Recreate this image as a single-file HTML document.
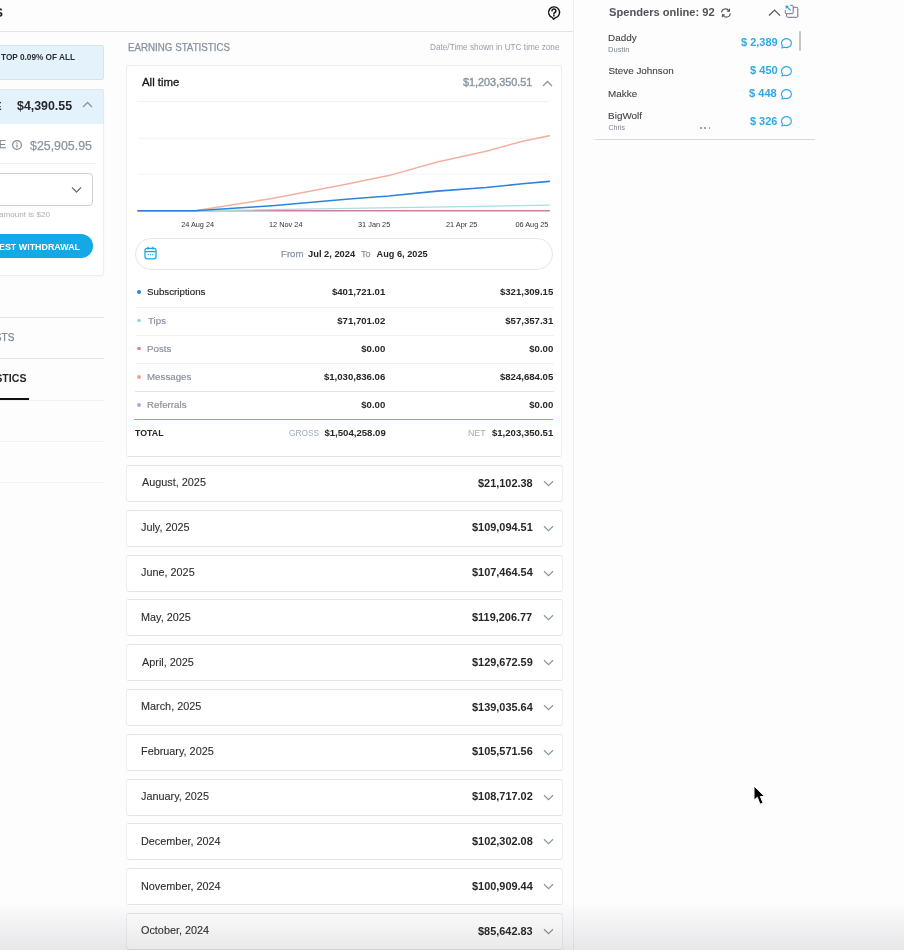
<!DOCTYPE html>
<html><head><meta charset="utf-8"><title>Statistics</title>
<style>
html,body{margin:0;padding:0;}
body{filter:blur(0.3px);width:904px;height:950px;overflow:hidden;position:relative;background:#fdfdfe;font-family:"Liberation Sans", Arial, sans-serif;}
.t{position:absolute;white-space:nowrap;line-height:1;}
.r{position:absolute;}
svg.r{overflow:visible;}
</style></head><body>
<div class="r" style="left:0.00px;top:31.00px;width:573.50px;height:1.00px;background:#e2e3e6;"></div>
<div class="t" style="left:-71.98px;top:6px;font-size:13.2px;color:#26272b;font-weight:bold;">STATISTICS</div>
<svg class="r" style="left:546px;top:5px" width="16" height="16" viewBox="0 0 16 16"><path d="M7.6 14.3 L6.5 12.6 A5.5 5.5 0 1 1 9.3 12.7 Z" fill="none" stroke="#111" stroke-width="1.4" stroke-linejoin="round"/><path d="M6.0 5.8 A1.95 1.95 0 1 1 8.6 7.7 Q7.9 8.1 7.9 8.9" fill="none" stroke="#111" stroke-width="1.5" stroke-linecap="round"/><circle cx="7.9" cy="10.7" r="0.85" fill="#111"/></svg>
<div class="r" style="left:573.00px;top:0.00px;width:1.00px;height:950.00px;background:#eeeef1;"></div>
<div class="r" style="left:-6.00px;top:45.00px;width:110.00px;height:35.30px;background:#e4f2fc;border:1px solid #d3e4f1;border-radius:2px;box-sizing:border-box;"></div>
<div class="t" style="left:-76.47px;top:53px;font-size:9.2px;color:#2a2d33;font-weight:bold;">YOU ARE IN THE</div>
<div class="t" style="left:1.02px;top:53px;font-size:9.2px;color:#2a2d33;font-weight:bold;transform:scaleX(0.897);transform-origin:0 0;">TOP 0.09% OF ALL</div>
<div class="r" style="left:-6.00px;top:89.30px;width:109.80px;height:186.70px;background:#fff;border:1px solid #eceef1;border-radius:3px;box-sizing:border-box;box-shadow:0 1px 2px rgba(0,0,0,0.03);"></div>
<div class="r" style="left:-6.00px;top:89.30px;width:109.80px;height:35.20px;background:#e4f2fc;border:1px solid #dbe9f5;border-bottom:0;box-sizing:border-box;border-radius:2px 2px 0 0;"></div>
<div class="t" style="left:-101.00px;top:102px;font-size:10.2px;color:#26272b;font-weight:bold;">CURRENT BALANCE</div>
<div class="t" style="left:17.18px;top:100px;font-size:12.3px;color:#26272b;font-weight:bold;transform:scaleX(1.007);transform-origin:0 0;">$4,390.55</div>
<svg class="r" style="left:82px;top:101px" width="11" height="7" viewBox="0 0 11 7"><path d="M1 6 L5.5 1.5 L10 6" fill="none" stroke="#8a96a3" stroke-width="1.3"/></svg>
<div class="t" style="left:-96.57px;top:139px;font-size:10.8px;color:#7f8893;-webkit-text-stroke:0.25px #7f8893;">PENDING BALANCE</div>
<svg class="r" style="left:11.9px;top:140.1px" width="10" height="10" viewBox="0 0 10 10"><circle cx="5" cy="5" r="4.4" fill="none" stroke="#7f8893" stroke-width="1.2"/><circle cx="5" cy="3" r="0.75" fill="#7f8893"/><path d="M5 4.5 V7.6" stroke="#7f8893" stroke-width="1.2"/></svg>
<div class="t" style="left:30.38px;top:140px;font-size:12.3px;color:#8a96a3;transform:scaleX(1.006);transform-origin:0 0;-webkit-text-stroke:0.25px #8a96a3;">$25,905.95</div>
<div class="r" style="left:-6.00px;top:163.00px;width:101.50px;height:1.00px;background:#eff0f2;"></div>
<div class="r" style="left:-6.00px;top:173.00px;width:98.70px;height:32.50px;border:1px solid #cdd1d6;border-radius:4px;box-sizing:border-box;background:#fff;"></div>
<svg class="r" style="left:71px;top:186px" width="11" height="8" viewBox="0 0 11 8"><path d="M1 1.5 L5.5 6 L10 1.5" fill="none" stroke="#6b7480" stroke-width="1.3"/></svg>
<div class="t" style="left:-74.96px;top:211px;font-size:8.0px;color:#a9b0b8;">Minimum withdrawal</div>
<div class="t" style="left:-0.82px;top:211px;font-size:8.0px;color:#a9b0b8;transform:scaleX(1.013);transform-origin:0 0;">amount is $20</div>
<div class="r" style="left:-20.00px;top:233.90px;width:112.90px;height:24.60px;background:#14a8e6;border-radius:13px;"></div>
<div class="t" style="left:-28.39px;top:242px;font-size:9.5px;color:#fff;font-weight:bold;">REQU</div>
<div class="t" style="left:-0.98px;top:242px;font-size:9.5px;color:#fff;font-weight:bold;transform:scaleX(0.936);transform-origin:0 0;">EST WITHDRAWAL</div>
<div class="r" style="left:0.00px;top:317.10px;width:104.00px;height:1.00px;background:#e3e5e8;"></div>
<div class="r" style="left:0.00px;top:358.10px;width:104.00px;height:1.00px;background:#e3e5e8;"></div>
<div class="r" style="left:0.00px;top:399.50px;width:104.00px;height:1.00px;background:#f0f1f3;"></div>
<div class="r" style="left:0.00px;top:440.70px;width:104.00px;height:1.00px;background:#f0f1f3;"></div>
<div class="r" style="left:0.00px;top:481.50px;width:104.00px;height:1.00px;background:#f0f1f3;"></div>
<div class="t" style="left:-19.60px;top:333px;font-size:10px;color:#7d8590;-webkit-text-stroke:0.25px #7d8590;">POSTS</div>
<div class="t" style="left:-33.79px;top:373px;font-size:10.6px;color:#26272b;font-weight:bold;">STATISTICS</div>
<div class="r" style="left:0.00px;top:397.80px;width:29.00px;height:2.00px;background:#111;"></div>
<div class="t" style="left:128.42px;top:43px;font-size:10.2px;color:#87919c;transform:scaleX(0.957);transform-origin:0 0;-webkit-text-stroke:0.25px #87919c;">EARNING STATISTICS</div>
<div class="t" style="left:429.74px;top:43px;font-size:8.6px;color:#979fa8;transform:scaleX(0.957);transform-origin:0 0;">Date/Time shown in UTC time zone</div>
<div class="r" style="left:126.40px;top:64.60px;width:435.80px;height:392.60px;background:#fff;border:1px solid #eceef1;border-top-color:#e9ebee;border-bottom-color:#dfe1e5;border-radius:3px;box-sizing:border-box;"></div>
<div class="t" style="left:141.50px;top:77px;font-size:11px;color:#161616;transform:scaleX(1.037);transform-origin:0 0;-webkit-text-stroke:0.3px #161616;">All time</div>
<div class="t" style="left:462.79px;top:77px;font-size:10.7px;color:#8a96a3;transform:scaleX(1.014);transform-origin:0 0;-webkit-text-stroke:0.4px #8a96a3;">$1,203,350.51</div>
<svg class="r" style="left:542px;top:79.5px" width="11" height="7" viewBox="0 0 11 7"><path d="M1 6 L5.5 1.5 L10 6" fill="none" stroke="#8a96a3" stroke-width="1.3"/></svg>
<div class="r" style="left:136.60px;top:100.80px;width:412.40px;height:1.00px;background:#f0f1f3;"></div>
<svg class="r" style="left:0;top:0" width="904" height="300" viewBox="0 0 904 300"><line x1="138" x2="549.5" y1="138.3" y2="138.3" stroke="#f2f3f5" stroke-width="1"/><line x1="138" x2="549.5" y1="174.1" y2="174.1" stroke="#f2f3f5" stroke-width="1"/><polyline points="138.0,210.8 549.3,210.8" fill="none" stroke="#d57a9c" stroke-width="1.6" stroke-linejoin="round" stroke-linecap="round"/><polyline points="138.0,210.8 195.0,210.8 549.3,205.2" fill="none" stroke="#a9dde4" stroke-width="1.3" stroke-linejoin="round" stroke-linecap="round"/><polyline points="138.0,210.8 195.0,210.8 272.0,198.6 346.0,184.3 388.7,175.6 437.3,162.0 486.0,151.3 522.5,141.3 549.3,135.8" fill="none" stroke="#f2b0a2" stroke-width="1.5" stroke-linejoin="round" stroke-linecap="round"/><polyline points="138.0,210.8 195.0,210.8 272.0,205.7 346.0,199.2 388.7,196.0 437.3,191.1 486.0,187.5 522.5,183.8 549.3,181.4" fill="none" stroke="#2d84d8" stroke-width="1.6" stroke-linejoin="round" stroke-linecap="round"/></svg>
<div class="t" style="left:181.13px;top:221px;font-size:7.33px;color:#333;">24 Aug 24</div>
<div class="t" style="left:269.05px;top:221px;font-size:7.33px;color:#333;">12 Nov 24</div>
<div class="t" style="left:358.04px;top:221px;font-size:7.33px;color:#333;">31 Jan 25</div>
<div class="t" style="left:446.03px;top:221px;font-size:7.33px;color:#333;">21 Apr 25</div>
<div class="t" style="left:515.44px;top:221px;font-size:7.33px;color:#333;">06 Aug 25</div>
<div class="r" style="left:135.00px;top:238.30px;width:418.20px;height:32.20px;border:1px solid #e4e6e9;border-radius:16px;box-sizing:border-box;background:#fff;"></div>
<svg class="r" style="left:143.8px;top:246px" width="13" height="14" viewBox="0 0 13 14"><rect x="1" y="2.3" width="11" height="10.5" rx="2" fill="none" stroke="#14a8e6" stroke-width="1.3"/><path d="M1 5.6 H12" stroke="#14a8e6" stroke-width="1.3"/><path d="M4 0.8 V3.4 M9 0.8 V3.4" stroke="#14a8e6" stroke-width="1.3"/><circle cx="4.3" cy="8.6" r="0.7" fill="#14a8e6"/><circle cx="6.5" cy="8.6" r="0.7" fill="#14a8e6"/><circle cx="8.7" cy="8.6" r="0.7" fill="#14a8e6"/></svg>
<div class="t" style="left:280.93px;top:250px;font-size:9.2px;color:#8a96a3;transform:scaleX(1.052);transform-origin:0 0;-webkit-text-stroke:0.25px #8a96a3;">From</div>
<div class="t" style="left:308.36px;top:250px;font-size:9.2px;color:#26272b;font-weight:bold;transform:scaleX(1.015);transform-origin:0 0;">Jul 2, 2024</div>
<div class="t" style="left:361.42px;top:250px;font-size:9.2px;color:#8a96a3;transform:scaleX(0.983);transform-origin:0 0;-webkit-text-stroke:0.25px #8a96a3;">To</div>
<div class="t" style="left:376.57px;top:250px;font-size:9.2px;color:#26272b;font-weight:bold;">Aug 6, 2025</div>
<div class="r" style="left:137.20px;top:290.30px;width:3.80px;height:3.80px;background:#2b7fe0;border-radius:50%;"></div>
<div class="t" style="left:147.26px;top:288px;font-size:9.2px;color:#26272b;transform:scaleX(1.060);transform-origin:0 0;-webkit-text-stroke:0.15px #26272b;">Subscriptions</div>
<div class="t" style="left:331.91px;top:287px;font-size:9.6px;color:#26272b;font-weight:bold;">$401,721.01</div>
<div class="t" style="left:499.91px;top:287px;font-size:9.6px;color:#26272b;font-weight:bold;">$321,309.15</div>
<div class="r" style="left:137.20px;top:318.50px;width:3.80px;height:3.80px;background:#93d8dd;border-radius:50%;"></div>
<div class="t" style="left:147.50px;top:317px;font-size:9.2px;color:#878e98;transform:scaleX(1.060);transform-origin:0 0;-webkit-text-stroke:0.15px #878e98;">Tips</div>
<div class="t" style="left:337.25px;top:316px;font-size:9.6px;color:#26272b;font-weight:bold;">$71,701.02</div>
<div class="t" style="left:505.25px;top:316px;font-size:9.6px;color:#26272b;font-weight:bold;">$57,357.31</div>
<div class="r" style="left:137.20px;top:346.70px;width:3.80px;height:3.80px;background:#e77fa8;border-radius:50%;"></div>
<div class="t" style="left:146.92px;top:345px;font-size:9.2px;color:#878e98;transform:scaleX(1.060);transform-origin:0 0;-webkit-text-stroke:0.15px #878e98;">Posts</div>
<div class="t" style="left:361.28px;top:344px;font-size:9.6px;color:#26272b;font-weight:bold;">$0.00</div>
<div class="t" style="left:529.28px;top:344px;font-size:9.6px;color:#26272b;font-weight:bold;">$0.00</div>
<div class="r" style="left:137.20px;top:374.90px;width:3.80px;height:3.80px;background:#f1a695;border-radius:50%;"></div>
<div class="t" style="left:146.92px;top:373px;font-size:9.2px;color:#878e98;transform:scaleX(1.060);transform-origin:0 0;-webkit-text-stroke:0.15px #878e98;">Messages</div>
<div class="t" style="left:323.91px;top:372px;font-size:9.6px;color:#26272b;font-weight:bold;">$1,030,836.06</div>
<div class="t" style="left:499.91px;top:372px;font-size:9.6px;color:#26272b;font-weight:bold;">$824,684.05</div>
<div class="r" style="left:137.20px;top:403.10px;width:3.80px;height:3.80px;background:#b3a5e6;border-radius:50%;"></div>
<div class="t" style="left:146.92px;top:401px;font-size:9.2px;color:#878e98;transform:scaleX(1.060);transform-origin:0 0;-webkit-text-stroke:0.15px #878e98;">Referrals</div>
<div class="t" style="left:361.28px;top:400px;font-size:9.6px;color:#26272b;font-weight:bold;">$0.00</div>
<div class="t" style="left:529.28px;top:400px;font-size:9.6px;color:#26272b;font-weight:bold;">$0.00</div>
<div class="r" style="left:136.00px;top:306.60px;width:417.50px;height:1.00px;background:#f0f1f3;"></div>
<div class="r" style="left:136.00px;top:334.70px;width:417.50px;height:1.00px;background:#f0f1f3;"></div>
<div class="r" style="left:136.00px;top:362.80px;width:417.50px;height:1.00px;background:#f0f1f3;"></div>
<div class="r" style="left:134.50px;top:390.90px;width:419.00px;height:1.00px;background:#e2e4e7;"></div>
<div class="r" style="left:134.30px;top:418.70px;width:419.20px;height:1.40px;background:#3cc4f3;"></div>
<div class="t" style="left:135.21px;top:428px;font-size:9.8px;color:#26272b;font-weight:bold;transform:scaleX(0.898);transform-origin:0 0;">TOTAL</div>
<div class="t" style="left:288.59px;top:429px;font-size:9.2px;color:#a2aab3;transform:scaleX(0.902);transform-origin:0 0;">GROSS</div>
<div class="t" style="left:324.40px;top:428px;font-size:9.6px;color:#26272b;font-weight:bold;">$1,504,258.09</div>
<div class="t" style="left:467.60px;top:429px;font-size:9.2px;color:#a2aab3;transform:scaleX(0.955);transform-origin:0 0;">NET</div>
<div class="t" style="left:491.91px;top:428px;font-size:9.6px;color:#26272b;font-weight:bold;">$1,203,350.51</div>
<div class="r" style="left:126.30px;top:465.00px;width:436.30px;height:37.00px;background:#fff;border:1px solid #eceef1;border-top-color:#e2e4e8;border-bottom-color:#e2e4e8;border-radius:3px;box-sizing:border-box;"></div>
<div class="t" style="left:141.50px;top:477px;font-size:10.5px;color:#2c2d31;transform:scaleX(1.033);transform-origin:0 0;-webkit-text-stroke:0.1px #2c2d31;">August, 2025</div>
<div class="t" style="left:477.92px;top:478px;font-size:10.8px;color:#26272b;font-weight:bold;transform:scaleX(1.012);transform-origin:0 0;">$21,102.38</div>
<svg class="r" style="left:542.7px;top:480.00px" width="11" height="7" viewBox="0 0 11 7"><path d="M1 1.3 L5.5 5.6 L10 1.3" fill="none" stroke="#8a96a3" stroke-width="1.25"/></svg>
<div class="r" style="left:126.30px;top:509.80px;width:436.30px;height:37.00px;background:#fff;border:1px solid #eceef1;border-top-color:#e2e4e8;border-bottom-color:#e2e4e8;border-radius:3px;box-sizing:border-box;"></div>
<div class="t" style="left:141.34px;top:522px;font-size:10.5px;color:#2c2d31;transform:scaleX(1.033);transform-origin:0 0;-webkit-text-stroke:0.1px #2c2d31;">July, 2025</div>
<div class="t" style="left:471.84px;top:522px;font-size:10.8px;color:#26272b;font-weight:bold;transform:scaleX(1.012);transform-origin:0 0;">$109,094.51</div>
<svg class="r" style="left:542.7px;top:524.80px" width="11" height="7" viewBox="0 0 11 7"><path d="M1 1.3 L5.5 5.6 L10 1.3" fill="none" stroke="#8a96a3" stroke-width="1.25"/></svg>
<div class="r" style="left:126.30px;top:554.60px;width:436.30px;height:37.00px;background:#fff;border:1px solid #eceef1;border-top-color:#e2e4e8;border-bottom-color:#e2e4e8;border-radius:3px;box-sizing:border-box;"></div>
<div class="t" style="left:141.34px;top:567px;font-size:10.5px;color:#2c2d31;transform:scaleX(1.033);transform-origin:0 0;-webkit-text-stroke:0.1px #2c2d31;">June, 2025</div>
<div class="t" style="left:471.84px;top:567px;font-size:10.8px;color:#26272b;font-weight:bold;transform:scaleX(1.012);transform-origin:0 0;">$107,464.54</div>
<svg class="r" style="left:542.7px;top:569.60px" width="11" height="7" viewBox="0 0 11 7"><path d="M1 1.3 L5.5 5.6 L10 1.3" fill="none" stroke="#8a96a3" stroke-width="1.25"/></svg>
<div class="r" style="left:126.30px;top:599.40px;width:436.30px;height:37.00px;background:#fff;border:1px solid #eceef1;border-top-color:#e2e4e8;border-bottom-color:#e2e4e8;border-radius:3px;box-sizing:border-box;"></div>
<div class="t" style="left:140.63px;top:612px;font-size:10.5px;color:#2c2d31;transform:scaleX(1.033);transform-origin:0 0;-webkit-text-stroke:0.1px #2c2d31;">May, 2025</div>
<div class="t" style="left:472.44px;top:612px;font-size:10.8px;color:#26272b;font-weight:bold;transform:scaleX(1.012);transform-origin:0 0;">$119,206.77</div>
<svg class="r" style="left:542.7px;top:614.40px" width="11" height="7" viewBox="0 0 11 7"><path d="M1 1.3 L5.5 5.6 L10 1.3" fill="none" stroke="#8a96a3" stroke-width="1.25"/></svg>
<div class="r" style="left:126.30px;top:644.20px;width:436.30px;height:37.00px;background:#fff;border:1px solid #eceef1;border-top-color:#e2e4e8;border-bottom-color:#e2e4e8;border-radius:3px;box-sizing:border-box;"></div>
<div class="t" style="left:141.50px;top:657px;font-size:10.5px;color:#2c2d31;transform:scaleX(1.033);transform-origin:0 0;-webkit-text-stroke:0.1px #2c2d31;">April, 2025</div>
<div class="t" style="left:471.84px;top:657px;font-size:10.8px;color:#26272b;font-weight:bold;transform:scaleX(1.012);transform-origin:0 0;">$129,672.59</div>
<svg class="r" style="left:542.7px;top:659.20px" width="11" height="7" viewBox="0 0 11 7"><path d="M1 1.3 L5.5 5.6 L10 1.3" fill="none" stroke="#8a96a3" stroke-width="1.25"/></svg>
<div class="r" style="left:126.30px;top:689.00px;width:436.30px;height:37.00px;background:#fff;border:1px solid #eceef1;border-top-color:#e2e4e8;border-bottom-color:#e2e4e8;border-radius:3px;box-sizing:border-box;"></div>
<div class="t" style="left:140.63px;top:701px;font-size:10.5px;color:#2c2d31;transform:scaleX(1.033);transform-origin:0 0;-webkit-text-stroke:0.1px #2c2d31;">March, 2025</div>
<div class="t" style="left:471.84px;top:702px;font-size:10.8px;color:#26272b;font-weight:bold;transform:scaleX(1.012);transform-origin:0 0;">$139,035.64</div>
<svg class="r" style="left:542.7px;top:704.00px" width="11" height="7" viewBox="0 0 11 7"><path d="M1 1.3 L5.5 5.6 L10 1.3" fill="none" stroke="#8a96a3" stroke-width="1.25"/></svg>
<div class="r" style="left:126.30px;top:733.80px;width:436.30px;height:37.00px;background:#fff;border:1px solid #eceef1;border-top-color:#e2e4e8;border-bottom-color:#e2e4e8;border-radius:3px;box-sizing:border-box;"></div>
<div class="t" style="left:140.63px;top:746px;font-size:10.5px;color:#2c2d31;transform:scaleX(1.033);transform-origin:0 0;-webkit-text-stroke:0.1px #2c2d31;">February, 2025</div>
<div class="t" style="left:471.84px;top:746px;font-size:10.8px;color:#26272b;font-weight:bold;transform:scaleX(1.012);transform-origin:0 0;">$105,571.56</div>
<svg class="r" style="left:542.7px;top:748.80px" width="11" height="7" viewBox="0 0 11 7"><path d="M1 1.3 L5.5 5.6 L10 1.3" fill="none" stroke="#8a96a3" stroke-width="1.25"/></svg>
<div class="r" style="left:126.30px;top:778.60px;width:436.30px;height:37.00px;background:#fff;border:1px solid #eceef1;border-top-color:#e2e4e8;border-bottom-color:#e2e4e8;border-radius:3px;box-sizing:border-box;"></div>
<div class="t" style="left:141.34px;top:791px;font-size:10.5px;color:#2c2d31;transform:scaleX(1.033);transform-origin:0 0;-webkit-text-stroke:0.1px #2c2d31;">January, 2025</div>
<div class="t" style="left:471.84px;top:791px;font-size:10.8px;color:#26272b;font-weight:bold;transform:scaleX(1.012);transform-origin:0 0;">$108,717.02</div>
<svg class="r" style="left:542.7px;top:793.60px" width="11" height="7" viewBox="0 0 11 7"><path d="M1 1.3 L5.5 5.6 L10 1.3" fill="none" stroke="#8a96a3" stroke-width="1.25"/></svg>
<div class="r" style="left:126.30px;top:823.40px;width:436.30px;height:37.00px;background:#fff;border:1px solid #eceef1;border-top-color:#e2e4e8;border-bottom-color:#e2e4e8;border-radius:3px;box-sizing:border-box;"></div>
<div class="t" style="left:140.63px;top:836px;font-size:10.5px;color:#2c2d31;transform:scaleX(1.033);transform-origin:0 0;-webkit-text-stroke:0.1px #2c2d31;">December, 2024</div>
<div class="t" style="left:471.84px;top:836px;font-size:10.8px;color:#26272b;font-weight:bold;transform:scaleX(1.012);transform-origin:0 0;">$102,302.08</div>
<svg class="r" style="left:542.7px;top:838.40px" width="11" height="7" viewBox="0 0 11 7"><path d="M1 1.3 L5.5 5.6 L10 1.3" fill="none" stroke="#8a96a3" stroke-width="1.25"/></svg>
<div class="r" style="left:126.30px;top:868.20px;width:436.30px;height:37.00px;background:#fff;border:1px solid #eceef1;border-top-color:#e2e4e8;border-bottom-color:#e2e4e8;border-radius:3px;box-sizing:border-box;"></div>
<div class="t" style="left:140.63px;top:881px;font-size:10.5px;color:#2c2d31;transform:scaleX(1.033);transform-origin:0 0;-webkit-text-stroke:0.1px #2c2d31;">November, 2024</div>
<div class="t" style="left:471.84px;top:881px;font-size:10.8px;color:#26272b;font-weight:bold;transform:scaleX(1.012);transform-origin:0 0;">$100,909.44</div>
<svg class="r" style="left:542.7px;top:883.20px" width="11" height="7" viewBox="0 0 11 7"><path d="M1 1.3 L5.5 5.6 L10 1.3" fill="none" stroke="#8a96a3" stroke-width="1.25"/></svg>
<div class="r" style="left:126.30px;top:913.00px;width:436.30px;height:37.00px;background:#fff;border:1px solid #eceef1;border-top-color:#e2e4e8;border-bottom-color:#e2e4e8;border-radius:3px;box-sizing:border-box;"></div>
<div class="t" style="left:141.01px;top:925px;font-size:10.5px;color:#2c2d31;transform:scaleX(1.033);transform-origin:0 0;-webkit-text-stroke:0.1px #2c2d31;">October, 2024</div>
<div class="t" style="left:477.92px;top:926px;font-size:10.8px;color:#26272b;font-weight:bold;transform:scaleX(1.012);transform-origin:0 0;">$85,642.83</div>
<svg class="r" style="left:542.7px;top:928.00px" width="11" height="7" viewBox="0 0 11 7"><path d="M1 1.3 L5.5 5.6 L10 1.3" fill="none" stroke="#8a96a3" stroke-width="1.25"/></svg>
<div class="t" style="left:608.72px;top:7px;font-size:10.8px;color:#505359;font-weight:bold;transform:scaleX(1.030);transform-origin:0 0;">Spenders online: 92</div>
<svg class="r" style="left:720px;top:7.5px" width="12" height="10" viewBox="0 0 12 10"><path d="M1.5 4.5 A4 4 0 0 1 9 3" fill="none" stroke="#555" stroke-width="1.1"/><path d="M9.6 0.8 L9.3 3.3 L6.9 3" fill="none" stroke="#555" stroke-width="1.1"/><path d="M10.3 5.5 A4 4 0 0 1 2.8 7" fill="none" stroke="#555" stroke-width="1.1"/><path d="M2.2 9.2 L2.5 6.7 L4.9 7" fill="none" stroke="#555" stroke-width="1.1"/></svg>
<svg class="r" style="left:768px;top:8.7px" width="13" height="8" viewBox="0 0 13 8"><path d="M1 6.6 L6.6 1.1 L12 6.6" fill="none" stroke="#575a66" stroke-width="1.35"/></svg>
<svg class="r" style="left:784px;top:4px" width="15" height="15" viewBox="0 0 15 15"><path d="M9.3 3.3 H12.8 A1 1 0 0 1 13.8 4.3 V12.3 A1 1 0 0 1 12.8 13.3 H3.6 A1 1 0 0 1 2.6 12.3 V9.8" fill="none" stroke="#6c6f7e" stroke-width="1"/><path d="M6.2 1.3 H8.2 A1 1 0 0 1 9.2 2.3 V8.7 A1 1 0 0 1 8.2 9.7 H2.3 A1 1 0 0 1 1.3 8.7 V6.2" fill="none" stroke="#6c6f7e" stroke-width="1"/><path d="M2.8 2.8 L6.7 6.4" fill="none" stroke="#2aa3db" stroke-width="1.2"/><path d="M1.4 1.4 L4.9 1.9 L1.9 4.9 Z" fill="#2aa3db"/></svg>
<div class="t" style="left:608.11px;top:33px;font-size:9.9px;color:#3e4147;-webkit-text-stroke:0.1px #3e4147;">Daddy</div>
<div class="t" style="left:608.30px;top:46px;font-size:7.0px;color:#7f848c;transform:scaleX(1.076);transform-origin:0 0;">Dustin</div>
<div class="t" style="left:740.69px;top:38px;font-size:10.2px;color:#2fa9e3;font-weight:bold;transform:scaleX(1.076);transform-origin:0 0;">$ 2,389</div>
<svg class="r" style="left:780px;top:37.90px" width="13" height="11" viewBox="0 0 13 11"><path d="M2.0 10.0 L2.5 7.9 A5 4.5 0 1 1 4.6 9.3 Z" fill="none" stroke="#2fa9e3" stroke-width="1.15" stroke-linejoin="round"/></svg>
<div class="t" style="left:608.45px;top:66px;font-size:9.9px;color:#3e4147;-webkit-text-stroke:0.1px #3e4147;">Steve Johnson</div>
<div class="t" style="left:749.59px;top:66px;font-size:10.2px;color:#2fa9e3;font-weight:bold;transform:scaleX(1.086);transform-origin:0 0;">$ 450</div>
<svg class="r" style="left:780px;top:65.80px" width="13" height="11" viewBox="0 0 13 11"><path d="M2.0 10.0 L2.5 7.9 A5 4.5 0 1 1 4.6 9.3 Z" fill="none" stroke="#2fa9e3" stroke-width="1.15" stroke-linejoin="round"/></svg>
<div class="t" style="left:608.11px;top:89px;font-size:9.9px;color:#3e4147;-webkit-text-stroke:0.1px #3e4147;">Makke</div>
<div class="t" style="left:749.39px;top:89px;font-size:10.2px;color:#2fa9e3;font-weight:bold;transform:scaleX(1.090);transform-origin:0 0;">$ 448</div>
<svg class="r" style="left:780px;top:88.60px" width="13" height="11" viewBox="0 0 13 11"><path d="M2.0 10.0 L2.5 7.9 A5 4.5 0 1 1 4.6 9.3 Z" fill="none" stroke="#2fa9e3" stroke-width="1.15" stroke-linejoin="round"/></svg>
<div class="t" style="left:608.11px;top:111px;font-size:9.9px;color:#3e4147;-webkit-text-stroke:0.1px #3e4147;">BigWolf</div>
<div class="t" style="left:608.55px;top:124px;font-size:7.0px;color:#7f848c;">Chris</div>
<div class="t" style="left:749.99px;top:117px;font-size:10.2px;color:#2fa9e3;font-weight:bold;transform:scaleX(1.070);transform-origin:0 0;">$ 326</div>
<svg class="r" style="left:780px;top:116.20px" width="13" height="11" viewBox="0 0 13 11"><path d="M2.0 10.0 L2.5 7.9 A5 4.5 0 1 1 4.6 9.3 Z" fill="none" stroke="#2fa9e3" stroke-width="1.15" stroke-linejoin="round"/></svg>
<div class="r" style="left:700.00px;top:127.10px;width:1.50px;height:1.50px;background:#8f939a;border-radius:50%;"></div>
<div class="r" style="left:704.40px;top:127.10px;width:1.50px;height:1.50px;background:#8f939a;border-radius:50%;"></div>
<div class="r" style="left:708.80px;top:127.10px;width:1.50px;height:1.50px;background:#8f939a;border-radius:50%;"></div>
<div class="r" style="left:799.00px;top:30.70px;width:1.70px;height:20.00px;background:#c5c6cb;border-radius:1px;"></div>
<div class="r" style="left:594.80px;top:139.20px;width:220.30px;height:1.00px;background:#d7d9dc;"></div>
<svg class="r" style="left:754.0px;top:786.0px" width="13.2" height="20.9" viewBox="0 0 12 19"><path d="M0 0 V12.9 L3.0 10.3 L5.5 16.6 L8.3 15.5 L5.8 9.6 L9.8 9.6 Z" fill="#000" stroke="#fff" stroke-width="0.9" stroke-linejoin="round"/></svg>
<div class="r" style="left:0.00px;top:902.00px;width:904.00px;height:48.00px;background:linear-gradient(to bottom, rgba(60,60,70,0) 0%, rgba(60,60,70,0.03) 25%, rgba(60,60,70,0.115) 100%);"></div>
</body></html>
